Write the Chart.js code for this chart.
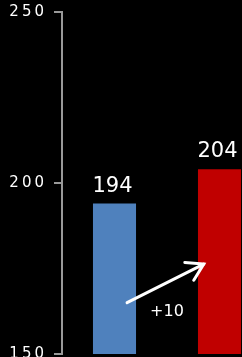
<!DOCTYPE html>
<html><head><meta charset="utf-8">
<script src="https://cdn.jsdelivr.net/npm/chart.js@4/dist/chart.umd.min.js"></script>
<style>
html,body{margin:0;padding:0;background:#000;overflow:hidden;}
#wrap{width:242px;height:357px;overflow:hidden;position:relative;}
#box{position:absolute;left:0;top:0;width:272px;height:370px;}
</style></head><body>
<div id="wrap"><div id="box"><canvas id="c"></canvas></div></div>
<script>
const categories = ['Before', 'After'];
const values = [194, 204];
const barColors = ['#4f81bd', '#c00000'];
const yTicks = [150, 200, 250];
// annotation arrow in data units (category index, value)
const arrowFrom = [0.12, 165];
const arrowTo = [0.85, 176.3];
const changeLabel = '+10';
const changeLabelPos = [0.5, 162.4];

const labelsPlugin = {
  id: 'extras',
  afterDatasetsDraw(chart) {
    const ctx = chart.ctx, xs = chart.scales.x, ys = chart.scales.y;
    const meta = chart.getDatasetMeta(0);
    ctx.save();
    ctx.letterSpacing = '0px';
    ctx.fillStyle = '#fff';
    ctx.font = '21px "DejaVu Sans"';
    ctx.textAlign = 'center';
    ctx.textBaseline = 'alphabetic';
    meta.data.forEach((b, i) => {
      ctx.fillText(String(values[i]), b.x - 2, b.y - 12);
    });
    // arrow
    const x1 = xs.getPixelForValue(arrowFrom[0]), y1 = ys.getPixelForValue(arrowFrom[1]);
    const x2 = xs.getPixelForValue(arrowTo[0]), y2 = ys.getPixelForValue(arrowTo[1]);
    ctx.strokeStyle = '#fff';
    ctx.lineWidth = 3;
    ctx.lineCap = 'round';
    ctx.beginPath(); ctx.moveTo(x1, y1); ctx.lineTo(x2, y2); ctx.stroke();
    const ang = Math.atan2(y2 - y1, x2 - x1), L = 19, spread = 0.55;
    ctx.beginPath();
    ctx.moveTo(x2 - L * Math.cos(ang - spread), y2 - L * Math.sin(ang - spread));
    ctx.lineTo(x2, y2);
    ctx.lineTo(x2 - L * Math.cos(ang + spread), y2 - L * Math.sin(ang + spread));
    ctx.stroke();
    ctx.font = '16px "DejaVu Sans"';
    ctx.textBaseline = 'middle';
    ctx.fillText(changeLabel, xs.getPixelForValue(changeLabelPos[0]), ys.getPixelForValue(changeLabelPos[1]));
    ctx.restore();
  }
};
const spacingPlugin = {
  id: 'spacing',
  beforeDraw(chart) { chart.ctx.letterSpacing = '3px'; }
};

new Chart(document.getElementById('c'), {
  type: 'bar',
  data: {
    labels: categories,
    datasets: [{ data: values, backgroundColor: barColors, barPercentage: 0.41, categoryPercentage: 1 }]
  },
  options: {
    responsive: true, maintainAspectRatio: false, animation: false,
    layout: { padding: { top: 12, bottom: 16, left: 0, right: 0 } },
    plugins: { legend: { display: false }, tooltip: { enabled: false } },
    scales: {
      x: { display: false, offset: true },
      y: {
        min: 150, max: 250,
        afterBuildTicks(s) { s.ticks = yTicks.map(v => ({ value: v })); },
        afterFit(s) { s.width = 62; s.paddingTop = 0; s.paddingBottom = 0; },
        border: { display: true, color: '#999', width: 2 },
        grid: { drawOnChartArea: false, tickLength: 8, color: '#999', lineWidth: 2 },
        ticks: { color: '#fff', font: { family: 'DejaVu Sans', size: 15 }, padding: 7 }
      }
    }
  },
  plugins: [spacingPlugin, labelsPlugin]
});
</script>
</body></html>
